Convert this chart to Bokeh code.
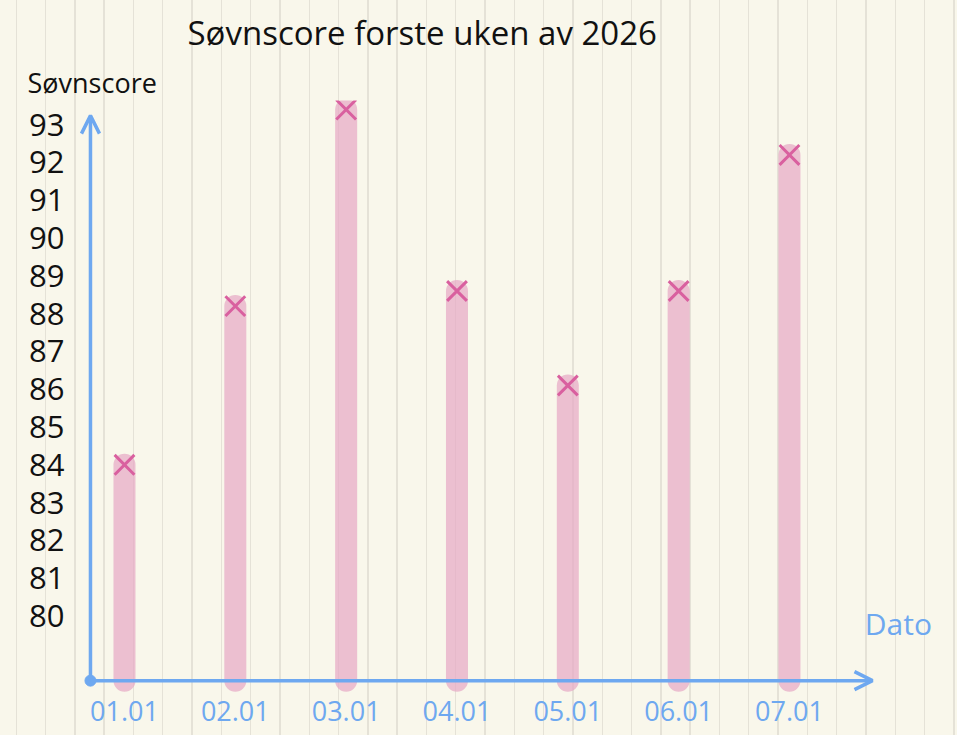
from bokeh.plotting import figure
from bokeh.models import Range1d, FixedTicker, Arrow, OpenHead, Label, Title, ColumnDataSource
from bokeh.embed import file_html
from bokeh.resources import INLINE

# ---- data ----
dates = ["01.01", "02.01", "03.01", "04.01", "05.01", "06.01", "07.01"]
scores = [84.0, 88.2, 93.4, 88.6, 86.1, 88.6, 92.2]
y_ticks = [80, 81, 82, 83, 84, 85, 86, 87, 88, 89, 90, 91, 92, 93]
title_text = "Søvnscore forste uken av 2026"
y_label = "Søvnscore"
x_label = "Dato"

# ---- layout / style constants ----
BG = "#f9f7eb"
BLUE = "#6ea8f0"
BAR = "#e6a9c5"
MARK = "#d9609f"
FONT = "Open Sans"

X0, X1 = -0.424, 7.471
Y0, Y1 = 77.976, 93.64
BASE = 78.29
AXIS_X = -0.307
X_ARROW_END = 6.749
Y_ARROW_END = 93.24

idx = list(range(len(dates)))
src = ColumnDataSource(dict(x=idx, score=scores, base=[BASE] * len(dates)))

p = figure(width=957, height=735, output_backend="svg", toolbar_location=None,
           x_range=Range1d(X0, X1), y_range=Range1d(Y0, Y1),
           min_border_left=77, min_border_right=5, min_border_top=89, min_border_bottom=43)

p.styles = {
    "background-color": BG,
    "background-image": "repeating-linear-gradient(to right, transparent 0px, transparent 15.6px, "
                        "#e5e2d7 15.6px, #e5e2d7 17.0px, transparent 17.0px, transparent 29.3px)",
}
p.background_fill_color = None
p.border_fill_color = None
p.outline_line_color = None
p.xgrid.visible = False
p.ygrid.visible = False

# main title (outermost)
p.title.text = title_text
p.title.align = "left"
p.title.offset = 110
p.title.standoff = 14
p.title.text_font = FONT
p.title.text_font_size = "33px"
p.title.text_font_style = "normal"
p.title.text_color = "#111111"

# y-axis caption, closest to the frame
p.add_layout(Title(text=y_label, align="left", offset=-50, standoff=0,
                   text_font=FONT, text_font_size="27px", text_font_style="normal",
                   text_color="#111111"), "above")

# y axis (labels only)
ya = p.yaxis[0]
ya.ticker = FixedTicker(ticks=y_ticks)
ya.axis_line_color = None
ya.major_tick_line_color = None
ya.minor_tick_line_color = None
ya.major_label_text_font = FONT
ya.major_label_text_font_size = "31px"
ya.major_label_text_color = "#111111"
ya.major_label_standoff = 7

# x axis (labels only)
xa = p.xaxis[0]
xa.ticker = FixedTicker(ticks=idx)
xa.major_label_overrides = {i: d for i, d in zip(idx, dates)}
xa.axis_line_color = None
xa.major_tick_line_color = None
xa.minor_tick_line_color = None
xa.major_label_text_font = FONT
xa.major_label_text_font_size = "27px"
xa.major_label_text_color = BLUE
xa.major_label_standoff = 2

# bars (thick rounded strokes)
p.segment(x0="x", y0="base", x1="x", y1="score", source=src,
          line_color=BAR, line_width=22, line_alpha=0.72, line_cap="round")
# hand-drawn crosses
p.scatter(x="x", y="score", source=src, marker="x", size=28,
          line_color=MARK, line_width=3)

# axes with arrows
p.add_layout(Arrow(x_start=AXIS_X, y_start=BASE, x_end=X_ARROW_END, y_end=BASE,
                   line_color=BLUE, line_width=3.5,
                   end=OpenHead(size=18, line_color=BLUE, line_width=3.5)))
p.add_layout(Arrow(x_start=AXIS_X, y_start=BASE, x_end=AXIS_X, y_end=Y_ARROW_END,
                   line_color=BLUE, line_width=3.5,
                   end=OpenHead(size=18, line_color=BLUE, line_width=3.5)))
p.scatter(x=[AXIS_X], y=[BASE], marker="circle", size=11, color=BLUE)

# x-axis caption
p.add_layout(Label(x=6.68, y=79.8, text=x_label, text_font=FONT, text_font_size="30px",
                   text_color=BLUE, text_baseline="middle"))

open("out.html", "w").write(file_html(p, INLINE))
